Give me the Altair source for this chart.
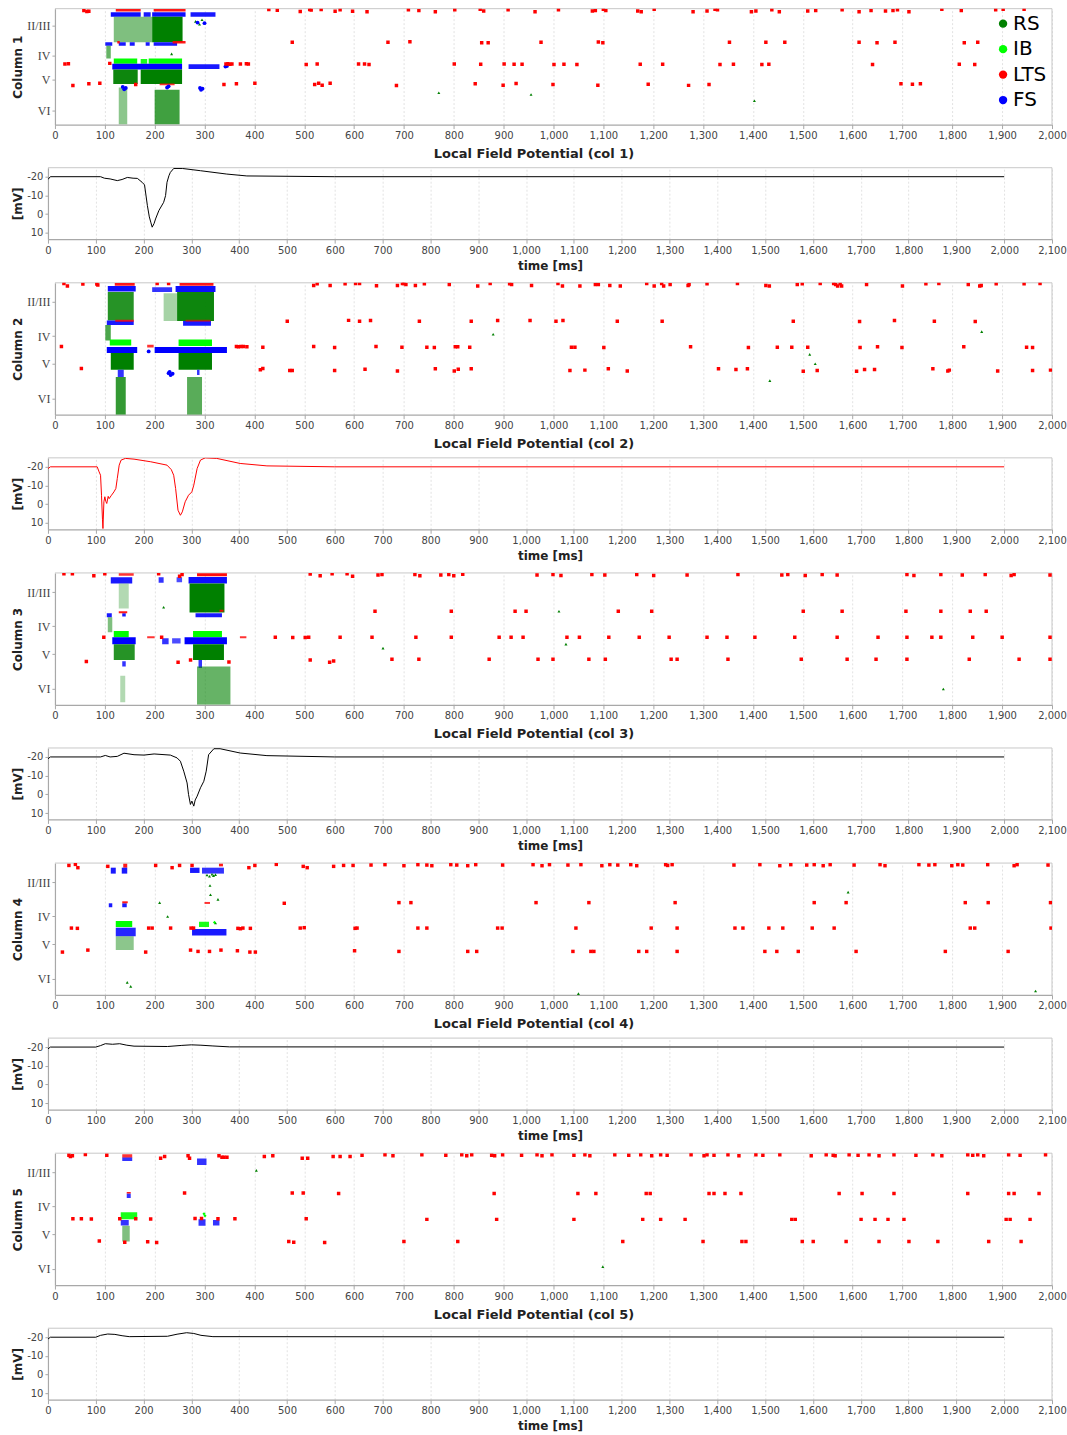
import altair as alt
import pandas as pd

# ---------------------------------------------------------------------------
# Cell classes, colours and glyphs
# ---------------------------------------------------------------------------
CELL_TYPES = ["RS", "IB", "LTS", "FS"]
CELL_COLORS = ["#008000", "#00ff00", "#ff0000", "#0000ff"]
CELL_SHAPES = {"RS": "triangle-up", "IB": "diamond", "LTS": "square", "FS": "circle"}
CELL_SIZES = {"RS": 9, "IB": 10, "LTS": 12, "FS": 15}

# cortical layer labels on the depth axis (0 = top of column, 100 = bottom)
LAYER_DEPTHS = [14.5, 40.5, 61.5, 87.5]
LAYER_NAMES = ["II/III", "IV", "V", "VI"]

RASTER_TICKS = list(range(0, 2001, 100))
LFP_TICKS = list(range(0, 2101, 100))
MV_TICKS = [-20, -10, 0, 10]
MV_DOMAIN = [-24.8, 13.4]

# ---------------------------------------------------------------------------
# Column 1 spikes
# blocks: dense population bursts (t0, t1, depth0, depth1, type, density)
# ---------------------------------------------------------------------------
c1_blocks = [
    (122, 172, 0.2, 2.4, "LTS", 0.9), (198, 262, 0.2, 2.4, "LTS", 0.9),
    (112, 172, 3, 7, "FS", 0.95), (178, 192, 3, 7, "FS", 0.9),
    (195, 262, 3, 7, "FS", 0.95), (272, 322, 3, 7, "FS", 0.9),
    (118, 195, 7, 29, "RS", 0.5), (195, 256, 7, 29, "RS", 1.0),
    (101, 115, 29, 32, "FS", 0.9), (128, 142, 29, 32, "FS", 0.9),
    (150, 160, 29, 32, "FS", 0.9), (182, 190, 29, 32, "FS", 0.9),
    (198, 245, 29, 32, "FS", 0.9),
    (125, 130, 28, 30, "LTS", 0.9), (236, 262, 28, 30, "LTS", 0.9),
    (103, 112, 32, 43, "RS", 0.6),
    (118, 165, 43, 47.5, "IB", 1.0), (172, 185, 43.5, 47.5, "IB", 0.9),
    (188, 255, 43, 47.5, "IB", 1.0),
    (115, 255, 47.5, 52.5, "FS", 1.0), (268, 330, 48, 52, "FS", 0.9),
    (117, 166, 52.5, 65, "RS", 0.95), (172, 255, 52.5, 65, "RS", 1.0),
    (210, 240, 64.5, 66, "LTS", 0.8),
    (128, 145, 68, 100, "RS", 0.45), (200, 250, 70, 100, "RS", 0.75),
]
c1_lts = [
    (58, 1.7), (64, 2.4), (68, 2.2), (429, 0.8), (446, 1.4), (492, 2.4), (511, 0.8),
    (514, 1.2), (534, 0.8), (562, 2.2), (572, 0.9), (597, 2.2), (626, 2.6), (709, 0.9),
    (730, 1.7), (763, 2.6), (802, 0.9), (853, 0.6), (860, 2.0), (909, 0.9), (963, 2.6),
    (1010, 0.9), (1078, 2.0), (1084, 1.7), (1100, 0.6), (1105, 1.7), (1169, 2.0),
    (1176, 2.6), (1202, 0.6), (1280, 2.6), (1308, 2.0), (1324, 0.6), (1329, 0.9),
    (1397, 2.6), (1406, 2.0), (1438, 0.9), (1453, 2.6), (1510, 2.0), (1526, 1.7),
    (1579, 0.9), (1613, 2.6), (1637, 1.7), (1666, 2.0), (1681, 1.7), (1690, 0.9),
    (1713, 2.6), (1779, 0.6), (1818, 1.7), (1887, 0.9), (1902, 0.6), (1944, 0.6),
    (476, 29), (668, 29), (712, 28.6), (856, 29.4), (869, 29.4), (975, 29), (1090, 28.8),
    (1099, 29.4), (1353, 29), (1426, 29), (1464, 29), (1613, 29), (1649, 29.4),
    (1685, 29), (1824, 29.4), (1851, 29),
    (20, 47.8), (27, 47.5), (110, 47.2), (343, 47.8), (347, 47.5), (351, 48), (355, 47.8),
    (372, 47.8), (384, 47.5), (388, 47.8), (504, 48.2), (526, 47.8), (609, 47.8),
    (621, 47.8), (630, 48.2), (801, 47.8), (854, 48), (901, 47.8), (921, 48), (937, 48),
    (1001, 48.2), (1021, 48), (1047, 48.2), (1174, 48), (1219, 48), (1334, 48.2),
    (1361, 48), (1418, 48.2), (1432, 48), (1640, 48.2), (1814, 48), (1845, 48.2),
    (36, 66.3), (68, 64.8), (90, 64.4), (162, 65.5), (339, 65.5), (364, 64.8), (401, 64.4),
    (521, 65.5), (529, 64.4), (536, 66.1), (552, 64.4), (685, 66.3), (843, 64.8),
    (899, 66), (925, 64.6), (999, 65.5), (1089, 66), (1190, 65.3), (1271, 66.2),
    (1312, 65.5), (1697, 64.8), (1720, 65.3), (1736, 64.8),
]
c1_rs = [(770, 72.5), (955, 74), (1403, 79.5), (282, 11), (290, 13.5), (295, 9.5), (234, 39)]
c1_fs = [(291, 68.5), (293, 70), (296, 69), (136, 67.5), (139, 69.5), (142, 68.5),
         (225, 68), (228, 67), (342, 50), (345, 49.5), (286, 12), (300, 12.5)]
c1_ib = []

# ---------------------------------------------------------------------------
# Column 2 spikes
# ---------------------------------------------------------------------------
c2_blocks = [
    (120, 160, 0.2, 2.2, "LTS", 0.9), (250, 318, 0.2, 2.2, "LTS", 0.9),
    (106, 162, 2.5, 6.5, "FS", 0.95), (195, 235, 3.3, 7, "FS", 0.8),
    (242, 322, 2.5, 7, "FS", 0.95),
    (106, 158, 7, 28.5, "RS", 0.85), (218, 245, 8, 29, "RS", 0.35),
    (245, 319, 7, 29, "RS", 0.95),
    (104, 158, 28.5, 32, "FS", 0.9), (257, 313, 29, 32.5, "FS", 0.9),
    (121, 158, 28, 29.5, "LTS", 0.8), (262, 312, 28, 29.5, "LTS", 0.6),
    (101, 112, 32, 43.7, "RS", 0.7),
    (110, 153, 43, 47.5, "IB", 1.0), (248, 315, 43, 48, "IB", 1.0),
    (104, 165, 48.7, 53.3, "FS", 1.0), (200, 345, 48.7, 53.3, "FS", 1.0),
    (185, 198, 47, 49, "LTS", 0.8),
    (112, 158, 53.3, 66, "RS", 1.0), (248, 315, 53.3, 66, "RS", 1.0),
    (126, 138, 66, 71.5, "FS", 0.8), (285, 290, 66, 70, "FS", 0.8),
    (122, 142, 71.5, 100, "RS", 0.8), (265, 295, 71.5, 100, "RS", 0.65),
]
c2_lts = [
    (18, 0.6), (25, 2.5), (56, 1), (84, 1), (86, 1.6), (205, 0.6), (228, 0.6), (519, 2),
    (526, 0.8), (552, 2), (582, 0.8), (603, 0.6), (611, 0.6), (645, 2.3), (687, 2.0),
    (697, 0.6), (700, 0.6), (704, 1.3), (723, 2.0), (741, 0.8), (791, 1.3), (848, 2.5),
    (873, 0.6), (912, 0.8), (916, 1.3), (956, 2.0), (1009, 0.6), (1018, 2.5), (1053, 2.5),
    (1084, 1.3), (1090, 1.3), (1113, 2.0), (1134, 2.5), (1187, 0.6), (1202, 2.5),
    (1217, 0.6), (1221, 2.5), (1234, 1.3), (1270, 2.0), (1272, 1.3), (1308, 0.8),
    (1369, 0.6), (1426, 2.0), (1433, 2.5), (1489, 1.3), (1499, 0.8), (1535, 0.6),
    (1562, 0.6), (1566, 1.3), (1570, 2.5), (1575, 0.8), (1578, 2.5), (1628, 1.3),
    (1700, 2.5), (1747, 0.8), (1773, 0.6), (1832, 1.3), (1855, 2.5), (1858, 2.0),
    (1888, 0.8), (1944, 0.8), (1976, 0.6),
    (466, 29.2), (589, 28.5), (611, 29.2), (633, 28.6), (731, 29.2), (835, 29.2),
    (888, 28.6), (953, 28.6), (1005, 29.2), (1019, 28.6), (1128, 29.2), (1218, 29.2),
    (1481, 29.2), (1614, 29.4), (1684, 28.6), (1764, 29.2), (1846, 29.4),
    (13, 48.3), (364, 48.3), (368, 48.5), (373, 48.3), (378, 48.3), (385, 48.5),
    (417, 48.8), (519, 48.3), (561, 49), (644, 48.3), (696, 48.8), (746, 48.8), (761, 49),
    (803, 48.5), (808, 48.5), (832, 48.8), (1036, 48.8), (1043, 48.8), (1101, 49),
    (1275, 48.5), (1391, 49), (1449, 48.8), (1478, 48.8), (1510, 48.8), (1615, 49),
    (1650, 48.5), (1699, 49), (1823, 48.5), (1949, 48.8), (1961, 49),
    (53, 65), (412, 66), (417, 65), (471, 66.5), (476, 66.5), (561, 66.5), (622, 65.5),
    (687, 66.8), (763, 65.2), (801, 66.8), (809, 65.5), (835, 65.2), (1033, 66.5),
    (1063, 66.2), (1110, 65.2), (1148, 66.8), (1331, 65.2), (1366, 65.7), (1389, 65.2),
    (1501, 67), (1529, 66.5), (1608, 67), (1624, 65.7), (1644, 65.7), (1761, 65.2),
    (1791, 66.8), (1794, 66.2), (1891, 66.8), (1961, 66.5), (1997, 66.2),
]
c2_rs = [(879, 39), (1859, 37), (1514, 54.3), (1525, 61.4), (1434, 74.2)]
c2_fs = [(188, 52), (228, 68.5), (232, 70), (236, 69), (230, 67.5)]
c2_ib = []

# ---------------------------------------------------------------------------
# Column 3 spikes
# ---------------------------------------------------------------------------
c3_blocks = [
    (128, 158, 0.2, 2.2, "LTS", 0.8), (285, 345, 0.2, 2.5, "LTS", 0.95),
    (112, 155, 3.3, 8, "FS", 0.9), (208, 218, 3.3, 7.5, "FS", 0.8),
    (244, 255, 3.3, 7, "FS", 0.7), (268, 345, 3, 8, "FS", 0.95),
    (128, 148, 8, 27, "RS", 0.3), (270, 340, 8, 30, "RS", 1.0),
    (104, 114, 30.5, 33.6, "FS", 0.9), (135, 142, 30.5, 33, "FS", 0.9),
    (282, 335, 30.5, 33.6, "FS", 0.9),
    (128, 145, 29, 30.5, "LTS", 0.9), (330, 338, 28, 29.5, "LTS", 0.9),
    (106, 115, 33.6, 45, "RS", 0.5),
    (118, 148, 44, 48.7, "IB", 1.0), (277, 335, 44, 48.7, "IB", 1.0),
    (115, 162, 48.7, 54, "FS", 1.0), (215, 228, 49.5, 54, "FS", 0.8),
    (235, 252, 49.5, 53.5, "FS", 0.7), (260, 345, 48.7, 54, "FS", 1.0),
    (185, 200, 48, 49.5, "LTS", 0.8), (371, 384, 48, 49.5, "LTS", 0.8),
    (118, 160, 54, 66, "RS", 0.85), (277, 339, 54, 66, "RS", 1.0),
    (135, 142, 67, 71, "FS", 0.8), (288, 295, 66, 72, "FS", 0.8),
    (131, 141, 78, 98, "RS", 0.3), (285, 352, 71, 100, "RS", 0.6),
]
c3_lts = [
    (18, 0.6), (35, 0.6), (78, 2.2), (100, 0.6), (208, 0.6), (250, 2.5), (255, 1.2),
    (512, 0.8), (532, 2.2), (556, 0.6), (586, 0.6), (597, 2.5), (648, 1.5), (656, 1.2),
    (722, 1.2), (732, 2.2), (774, 1.5), (790, 1.2), (800, 2.2), (818, 1.0), (967, 1.5),
    (999, 1.2), (1015, 2.0), (1077, 1.2), (1103, 1.6), (1167, 1.2), (1201, 2.0),
    (1268, 1.5), (1370, 1.2), (1458, 1.6), (1470, 1.2), (1505, 2.0), (1539, 1.2),
    (1569, 1.6), (1709, 1.2), (1723, 2.0), (1777, 1.2), (1820, 1.6), (1866, 1.2),
    (1918, 2.0), (1924, 1.2), (1996, 1.5),
    (642, 29), (795, 29), (923, 29), (945, 29), (1130, 29), (1197, 29), (1501, 29),
    (1579, 29), (1707, 29), (1777, 29), (1836, 29), (1868, 29),
    (98, 48.7), (214, 48.7), (442, 48.7), (477, 48.9), (502, 48.9), (509, 48.7),
    (572, 48.7), (636, 48.7), (724, 48.7), (795, 48.7), (891, 48.7), (915, 48.7),
    (939, 48.7), (1027, 48.7), (1052, 48.7), (1111, 48.7), (1172, 48.7), (1232, 48.7),
    (1308, 48.7), (1348, 48.7), (1404, 48.7), (1484, 48.7), (1569, 48.7), (1651, 48.7),
    (1709, 48.7), (1759, 48.7), (1777, 48.7), (1841, 48.7), (1900, 48.7), (1996, 48.7),
    (63, 67.2), (247, 67.7), (272, 66), (349, 67.5), (512, 66), (551, 67.7), (559, 66.7),
    (676, 65.5), (730, 65.5), (871, 65.5), (969, 65.5), (999, 65.5), (1071, 65.5),
    (1104, 65.5), (1236, 65.5), (1248, 65.5), (1350, 65.5), (1497, 65.5), (1589, 65.5),
    (1647, 65.5), (1709, 65.5), (1834, 65.5), (1934, 65.5), (1996, 65.5),
]
c3_rs = [(218, 26), (658, 57), (1011, 29), (1025, 54), (1782, 88)]
c3_fs = []
c3_ib = []

# ---------------------------------------------------------------------------
# Column 4 spikes
# ---------------------------------------------------------------------------
c4_blocks = [
    (137, 145, 0.5, 3.5, "LTS", 0.9), (329, 337, 0.5, 2.5, "LTS", 0.9),
    (112, 122, 3.5, 8, "FS", 0.9), (134, 145, 3.5, 8, "FS", 0.9),
    (271, 290, 3.5, 7.5, "FS", 0.9), (295, 339, 3.5, 8, "FS", 0.8),
    (108, 115, 30.5, 33.5, "FS", 0.9), (135, 144, 30.5, 33.5, "FS", 0.9),
    (135, 146, 29, 30.5, "LTS", 0.9), (300, 311, 29.5, 31, "LTS", 0.8),
    (122, 155, 44, 48.5, "IB", 1.0), (289, 309, 44.5, 48.5, "IB", 0.9),
    (122, 162, 49, 55.5, "FS", 0.85), (275, 344, 50, 55, "FS", 0.9),
    (122, 158, 55.5, 66, "RS", 0.45),
]
c4_lts = [
    (28, 1.8), (41, 1), (46, 3.5), (106, 2.5), (202, 1.8), (235, 3.5), (250, 1.8),
    (275, 1.8), (389, 3.5), (401, 1.8), (444, 1), (498, 2.5), (506, 3.5), (559, 2.5),
    (579, 1.8), (598, 1.8), (634, 1.5), (662, 1.2), (700, 2.0), (728, 1.2), (746, 1.5),
    (756, 2.0), (794, 1.2), (806, 1.5), (828, 2.0), (844, 1.2), (898, 1.5), (959, 1.2),
    (977, 2.0), (992, 1.2), (1029, 1.5), (1055, 1.2), (1097, 2.0), (1113, 1.2),
    (1129, 1.5), (1155, 1.2), (1167, 2.0), (1225, 1.2), (1229, 1.8), (1238, 1.2),
    (1362, 1.5), (1414, 1.2), (1454, 2.0), (1476, 1.2), (1508, 1.5), (1523, 1.2),
    (1541, 2.0), (1555, 1.2), (1603, 1.5), (1655, 1.2), (1665, 2.0), (1733, 1.2),
    (1753, 1.5), (1765, 1.2), (1799, 2.0), (1811, 1.2), (1821, 1.5), (1871, 1.2),
    (1924, 2.0), (1930, 1.2), (1992, 1.5),
    (460, 30.5), (690, 30), (714, 30), (965, 30), (1071, 30), (1244, 30), (1523, 30),
    (1587, 30), (1826, 30), (1872, 30), (1997, 30),
    (33, 49.3), (45, 49.5), (188, 49.3), (195, 49.3), (232, 49.3), (273, 49.3),
    (278, 49.3), (367, 49.5), (372, 49.8), (377, 49.3), (392, 49.5), (492, 49.3),
    (500, 49), (602, 49.5), (606, 49.3), (728, 49.3), (746, 49.3), (888, 49.3),
    (897, 49.3), (1045, 49.3), (1196, 49.3), (1248, 49.3), (1364, 49.3), (1380, 49.3),
    (1432, 49.3), (1460, 49.3), (1519, 49.3), (1563, 49.3), (1836, 49.3), (1845, 49.3),
    (1998, 49.3),
    (15, 67.5), (66, 66), (182, 67.5), (272, 66), (287, 67), (310, 67), (333, 66),
    (366, 66.5), (391, 67.5), (402, 67.5), (601, 66.5), (690, 67), (828, 67), (846, 67),
    (1039, 67), (1075, 67), (1081, 67), (1171, 67), (1187, 67), (1248, 67), (1424, 67),
    (1448, 67), (1491, 67), (1607, 67), (1786, 67), (1912, 67),
]
c4_rs = [(311, 17), (312, 24), (327, 27.5), (210, 30), (226, 40.5), (322, 45.5),
         (145, 90.5), (152, 93.5), (1591, 22), (1050, 99), (1967, 97), (305, 9),
         (310, 10), (315, 8.5), (318, 9.5), (322, 8.8)]
c4_fs = []
c4_ib = [(320, 45)]

# ---------------------------------------------------------------------------
# Column 5 spikes
# ---------------------------------------------------------------------------
c5_blocks = [
    (135, 155, 0.8, 3.5, "LTS", 0.8),
    (135, 155, 3.2, 6, "FS", 0.8), (285, 304, 4, 9, "FS", 0.8),
    (144, 152, 30.5, 34, "FS", 0.8), (144, 152, 29.5, 30.5, "LTS", 0.9),
    (132, 165, 44.7, 50, "IB", 0.9),
    (132, 148, 50.7, 54.8, "FS", 0.8), (288, 302, 50, 55, "FS", 0.8),
    (317, 330, 50.7, 54.8, "FS", 0.8),
    (135, 150, 55, 67, "RS", 0.5),
]
c5_lts = [
    (28, 1.5), (31, 2.5), (35, 2), (61, 1), (104, 1.5), (212, 3.8), (220, 2.5), (267, 2),
    (270, 3.8), (329, 2), (335, 3), (339, 3), (345, 3), (420, 2.5), (437, 2), (496, 3.8),
    (507, 3.8), (558, 2.5), (572, 2.5), (592, 2.5), (616, 1.5), (662, 1.2), (678, 2.0),
    (736, 1.2), (784, 1.5), (816, 1.2), (826, 2.0), (836, 1.2), (876, 1.5), (882, 2.0),
    (898, 1.2), (936, 1.5), (967, 1.2), (977, 2.0), (997, 1.2), (1041, 1.5), (1063, 1.2),
    (1073, 2.0), (1123, 1.2), (1151, 1.5), (1175, 1.2), (1197, 2.0), (1215, 1.2),
    (1228, 1.5), (1276, 1.2), (1302, 2.0), (1308, 1.2), (1322, 1.5), (1350, 1.2),
    (1372, 2.0), (1406, 1.2), (1420, 1.5), (1454, 1.2), (1517, 2.0), (1547, 1.2),
    (1561, 1.5), (1565, 2.0), (1593, 1.2), (1611, 1.5), (1633, 1.2), (1653, 2.0),
    (1683, 1.2), (1727, 1.5), (1761, 1.2), (1779, 2.0), (1831, 1.2), (1841, 1.5),
    (1851, 1.2), (1863, 2.0), (1913, 1.2), (1936, 1.5), (1987, 1.2),
    (260, 30.2), (476, 30.2), (498, 30.2), (569, 30.5), (881, 30.5), (1049, 30.5),
    (1085, 30.5), (1186, 30.5), (1194, 30.5), (1312, 30.5), (1322, 30.5), (1344, 30.5),
    (1376, 30.5), (1573, 30.5), (1619, 30.5), (1683, 30.5), (1831, 30.5), (1913, 30.5),
    (1924, 30.5), (1974, 30.5),
    (36, 49.7), (53, 49.7), (73, 49.9), (130, 49.7), (162, 49.7), (192, 49.9),
    (281, 49.5), (294, 49.5), (327, 49.7), (361, 49.7), (504, 49.7), (746, 50.2),
    (886, 50.2), (1041, 50.2), (1179, 50.2), (1215, 50.2), (1264, 50.2), (1478, 50.2),
    (1485, 50.2), (1617, 50.2), (1645, 50.2), (1671, 50.2), (1703, 50.2), (1908, 50.2),
    (1916, 50.2), (1956, 50.2),
    (89, 66.6), (140, 67.6), (186, 67.2), (204, 67.8), (469, 67), (479, 67.6), (541, 67.8),
    (700, 66.9), (808, 66.9), (1139, 66.9), (1300, 66.9), (1378, 66.9), (1386, 66.9),
    (1499, 66.9), (1521, 66.9), (1587, 66.9), (1653, 66.9), (1713, 66.9), (1771, 66.9),
    (1873, 66.9), (1938, 66.9),
]
c5_rs = [(404, 13), (1099, 86)]
c5_fs = []
c5_ib = [(299, 46), (301, 47.5)]

# ---------------------------------------------------------------------------
# Local field potential traces, one per column: time [ms] and value [mV]
# ---------------------------------------------------------------------------
lfp1_t = [0, 5, 110, 118, 130, 145, 155, 166, 178, 187, 197, 202, 208, 212, 215, 218,
          222, 225, 232, 242, 246, 249, 253, 256, 263, 281, 319, 374, 416, 600, 2000]
lfp1_mv = [-18.5, -20, -20, -19.2, -18.8, -17.9, -18.5, -19.6, -19.2, -19.1, -17, -15.6,
           -4.5, 1.5, 4.3, 7, 5, 2.6, -1.9, -6.3, -9.9, -17, -20.5, -22.3, -24.4, -24.4,
           -23.2, -21.4, -20.4, -20, -20]
lfp2_t = [0, 5, 103, 107, 110, 112, 114, 115, 117, 119, 121, 123, 126, 128, 132, 138, 142,
          145, 149, 153, 162, 180, 215, 249, 258, 263, 267, 272, 277, 281, 287, 294, 301,
          305, 312, 319, 329, 353, 402, 458, 600, 2000]
lfp2_mv = [-19, -20, -20, -17.3, -15.5, -4.8, 8, 13, -1.3, -4, -1.5, -0.4, -4.2, -3, -4.5,
           -6.6, -8.4, -13.8, -20.9, -23.6, -24.5, -24.1, -22.7, -20.9, -18.5, -15.5, -8.4,
           3.2, 5.9, 4.1, -1.3, -4.8, -6.6, -10.2, -19.1, -23.6, -24.8, -24.5, -21.8,
           -20.5, -20, -20]
lfp3_t = [0, 5, 110, 120, 130, 145, 159, 180, 201, 222, 256, 270, 277, 284, 291, 294, 298,
          301, 305, 308, 312, 319, 326, 331, 336, 347, 360, 402, 458, 600, 2000]
lfp3_mv = [-19, -20, -20, -20.8, -20, -20.3, -22, -21.2, -21, -21.6, -21, -19.5, -17.7,
           -12.4, -6.1, 0, 5.4, 3.6, 6.3, 3, 1, -3.5, -7, -12.4, -21.2, -24.4, -24.4,
           -22.1, -20.7, -20, -20]
lfp4_t = [0, 5, 100, 110, 120, 135, 150, 165, 180, 250, 280, 300, 320, 345, 380, 2000]
lfp4_mv = [-19, -20, -20, -20.8, -21.8, -21.5, -21.8, -21, -20.5, -20.3, -20.9, -21.2,
           -21, -20.6, -20.1, -20]
lfp5_t = [0, 5, 100, 110, 125, 140, 155, 170, 250, 270, 290, 305, 320, 345, 2000]
lfp5_mv = [-19, -20, -20, -21, -21.7, -21.5, -20.8, -20.3, -20.5, -21.6, -22.4, -22,
           -21, -20.3, -20]

# ---------------------------------------------------------------------------
# Styling helpers
# ---------------------------------------------------------------------------
FONT = "DejaVu Sans"
AXIS_GREY = "#a8a8a8"
FRAME_GREY = "#c8c8c8"
GRID_GREY = "#e2e2e2"
PLOT_W = 1005
RASTER_SHIFT = 7  # raster data area starts a little right of the LFP data area

color_scale = alt.Scale(domain=CELL_TYPES, range=CELL_COLORS)

layer_expr = " : ".join(
    f"datum.value < {(LAYER_DEPTHS[i] + LAYER_DEPTHS[i + 1]) / 2} ? '{LAYER_NAMES[i]}'"
    for i in range(len(LAYER_NAMES) - 1)
) + f" : '{LAYER_NAMES[-1]}'"
thousands_expr = "format(datum.value, ',.0f')"
signed_expr = "(datum.value < 0 ? '-' : '') + format(abs(datum.value), 'd')"


def common_axis(**kw):
    base = dict(
        domainColor=AXIS_GREY, domainWidth=1.2, tickColor=AXIS_GREY, tickSize=4,
        labelColor="#444444", labelFont=FONT, labelFontSize=10, labelPadding=2,
        labelOverlap=False, labelFlush=False, titleFont=FONT, titleFontSize=12,
        titleFontWeight="bold", titleColor="#222222",
    )
    base.update(kw)
    return alt.Axis(**base)


def color_enc(show_legend):
    if show_legend:
        leg = alt.Legend(
            orient="none", legendX=946, legendY=5, title=None, symbolType="circle",
            symbolSize=70, symbolStrokeWidth=0, labelFont=FONT, labelFontSize=20,
            labelColor="#000000", rowPadding=5.5, labelOffset=0, padding=0,
        )
        return alt.Color("type:N", scale=color_scale, legend=leg)
    return alt.Color("type:N", scale=color_scale, legend=None)


def frame_layers(x0, x1, y0, y1, xs, ys, xaxis, yaxis):
    """Top and right border lines of a plot area."""
    base = alt.Chart(pd.DataFrame({"f": [0]}))
    top = base.mark_rule(color=FRAME_GREY, strokeWidth=1).encode(
        x=alt.XDatum(x0, type="quantitative", scale=xs, axis=xaxis),
        x2=alt.X2Datum(x1),
        y=alt.YDatum(y0, type="quantitative", scale=ys, axis=yaxis),
    )
    right = base.mark_rule(color=FRAME_GREY, strokeWidth=1).encode(
        x=alt.XDatum(x1, type="quantitative", scale=xs, axis=xaxis),
        y=alt.YDatum(y0, type="quantitative", scale=ys, axis=yaxis),
        y2=alt.Y2Datum(y1),
    )
    return [top, right]


def raster_chart(col, blocks, lts, rs, fs, ib, height, show_legend):
    xs = alt.Scale(domain=[0, 2000], range=[RASTER_SHIFT, PLOT_W], nice=False, zero=False)
    ys = alt.Scale(domain=[0, 100], reverse=True, nice=False, zero=False)
    xaxis = common_axis(
        values=RASTER_TICKS, labelExpr=thousands_expr, grid=True, gridColor=GRID_GREY,
        gridDash=[2, 2], title=f"Local Field Potential (col {col})", titleFontSize=13,
        titleX=486, titleY=29, titleBaseline="middle", titleAlign="center",
    )
    yaxis = common_axis(
        values=LAYER_DEPTHS, labelExpr=layer_expr, offset=-RASTER_SHIFT, grid=False,
        labelFont="Liberation Serif", labelFontSize=12, tickSize=3,
        title=f"Column {col}", titleX=-30, titleY=height / 2, titleAngle=270,
        titleBaseline="bottom", titleAlign="center",
    )

    bdf = pd.DataFrame(blocks, columns=["t0", "t1", "d0", "d1", "type", "dens"])
    block_layer = alt.Chart(bdf).mark_rect(strokeWidth=0, clip=True).encode(
        x=alt.X("t0:Q", scale=xs, axis=xaxis),
        x2="t1:Q",
        y=alt.Y("d0:Q", scale=ys, axis=yaxis),
        y2="d1:Q",
        color=color_enc(show_legend),
        opacity=alt.Opacity("dens:Q", scale=None, legend=None),
    )

    layers = frame_layers(0, 2000, 0, 100, xs, ys, xaxis, yaxis) + [block_layer]
    for kind, pts in (("RS", rs), ("IB", ib), ("FS", fs), ("LTS", lts)):
        if not pts:
            continue
        df = pd.DataFrame(pts, columns=["t", "d"])
        df["type"] = kind
        layers.append(
            alt.Chart(df).mark_point(
                filled=True, shape=CELL_SHAPES[kind], size=CELL_SIZES[kind],
                opacity=1, strokeWidth=0, clip=True,
            ).encode(
                x=alt.X("t:Q", scale=xs, axis=xaxis),
                y=alt.Y("d:Q", scale=ys, axis=yaxis),
                color=color_enc(show_legend),
            )
        )
    return alt.layer(*layers).properties(width=PLOT_W, height=height)


def lfp_chart(ts, mv, line_color, height):
    xs = alt.Scale(domain=[0, 2100], nice=False, zero=False)
    ys = alt.Scale(domain=MV_DOMAIN, reverse=True, nice=False, zero=False)
    xaxis = common_axis(
        values=LFP_TICKS, labelExpr=thousands_expr, grid=True, gridColor=GRID_GREY,
        gridDash=[2, 2], title="time [ms]", titleX=PLOT_W / 2, titleY=26,
        titleBaseline="middle", titleAlign="center",
    )
    yaxis = common_axis(
        values=MV_TICKS, labelExpr=signed_expr, grid=False, tickSize=3,
        title="[mV]", titleX=-23, titleY=height / 2, titleAngle=270,
        titleBaseline="bottom", titleAlign="center",
    )
    df = pd.DataFrame({"t": ts, "mv": mv})
    line = alt.Chart(df).mark_line(color=line_color, strokeWidth=1, clip=True).encode(
        x=alt.X("t:Q", scale=xs, axis=xaxis),
        y=alt.Y("mv:Q", scale=ys, axis=yaxis),
    )
    layers = frame_layers(0, 2100, MV_DOMAIN[0], MV_DOMAIN[1], xs, ys, xaxis, yaxis)
    return alt.layer(*layers, line).properties(width=PLOT_W, height=height)


RASTER_H = 132
LFP_H = 71.5

panels = [
    raster_chart(1, c1_blocks, c1_lts, c1_rs, c1_fs, c1_ib, 116, True),
    lfp_chart(lfp1_t, lfp1_mv, "#000000", LFP_H),
    raster_chart(2, c2_blocks, c2_lts, c2_rs, c2_fs, c2_ib, RASTER_H, False),
    lfp_chart(lfp2_t, lfp2_mv, "#ff0000", LFP_H),
    raster_chart(3, c3_blocks, c3_lts, c3_rs, c3_fs, c3_ib, RASTER_H, False),
    lfp_chart(lfp3_t, lfp3_mv, "#000000", LFP_H),
    raster_chart(4, c4_blocks, c4_lts, c4_rs, c4_fs, c4_ib, RASTER_H, False),
    lfp_chart(lfp4_t, lfp4_mv, "#000000", LFP_H),
    raster_chart(5, c5_blocks, c5_lts, c5_rs, c5_fs, c5_ib, RASTER_H, False),
    lfp_chart(lfp5_t, lfp5_mv, "#000000", LFP_H),
]

chart = (
    alt.vconcat(*panels, spacing=43.2, bounds="flush")
    .resolve_scale(color="independent")
    .resolve_legend(color="independent")
    .properties(padding={"left": 12, "top": 7, "right": 0, "bottom": 4}, background="#ffffff")
    .configure_view(strokeOpacity=0)
)

chart.save("out.html", embed_options={"renderer": "svg", "actions": False})
